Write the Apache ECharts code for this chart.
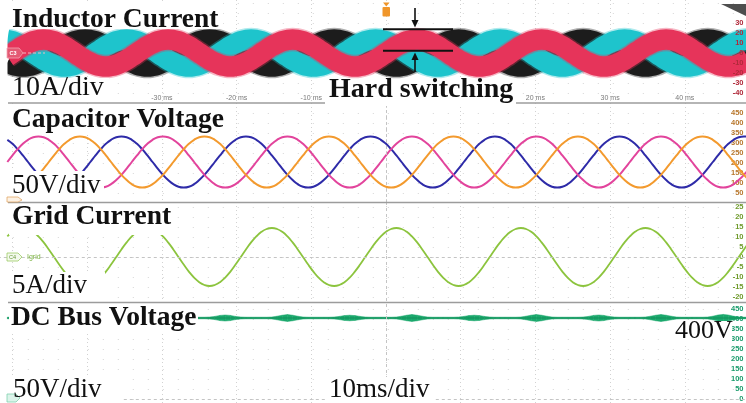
<!DOCTYPE html>
<html><head><meta charset="utf-8">
<script src="https://cdn.jsdelivr.net/npm/echarts@6/dist/echarts.min.js"></script>
<style>html,body{margin:0;padding:0;background:#fff}#c{width:746px;height:403px}</style>
</head><body><div id="c"></div>
<script>
// ---- time base (ms), one sample every 1/24 of a 60 Hz period ----
const timeMs = [
-50.69,-50,-49.31,-48.61,-47.92,-47.22,-46.53,-45.83,-45.14,-44.44,-43.75,-43.06,-42.36,-41.67,-40.97,-40.28,-39.58,-38.89,-38.19,-37.5,-36.81,-36.11,-35.42,-34.72,
-34.03,-33.33,-32.64,-31.94,-31.25,-30.56,-29.86,-29.17,-28.47,-27.78,-27.08,-26.39,-25.69,-25,-24.31,-23.61,-22.92,-22.22,-21.53,-20.83,-20.14,-19.44,-18.75,-18.06,
-17.36,-16.67,-15.97,-15.28,-14.58,-13.89,-13.19,-12.5,-11.81,-11.11,-10.42,-9.72,-9.03,-8.33,-7.64,-6.94,-6.25,-5.56,-4.86,-4.17,-3.47,-2.78,-2.08,-1.39,
-0.69,0,0.69,1.39,2.08,2.78,3.47,4.17,4.86,5.56,6.25,6.94,7.64,8.33,9.03,9.72,10.42,11.11,11.81,12.5,13.19,13.89,14.58,15.28,
15.97,16.67,17.36,18.06,18.75,19.44,20.14,20.83,21.53,22.22,22.92,23.61,24.31,25,25.69,26.39,27.08,27.78,28.47,29.17,29.86,30.56,31.25,31.94,
32.64,33.33,34.03,34.72,35.42,36.11,36.81,37.5,38.19,38.89,39.58,40.28,40.97,41.67,42.36,43.06,43.75,44.44,45.14,45.83,46.53,47.22,47.92,48.61
];

// ---- Inductor currents (A), band centre ----
const iRed = [
-3.5,0,3.5,6.8,9.5,11.7,13,13.5,13,11.7,9.5,6.8,3.5,0,-3.5,-6.8,-9.5,-11.7,-13,-13.5,-13,-11.7,-9.5,-6.8,
-3.5,0,3.5,6.8,9.5,11.7,13,13.5,13,11.7,9.5,6.8,3.5,0,-3.5,-6.8,-9.5,-11.7,-13,-13.5,-13,-11.7,-9.5,-6.8,
-3.5,0,3.5,6.8,9.5,11.7,13,13.5,13,11.7,9.5,6.8,3.5,0,-3.5,-6.8,-9.5,-11.7,-13,-13.5,-13,-11.7,-9.5,-6.8,
-3.5,0,3.5,6.8,9.5,11.7,13,13.5,13,11.7,9.5,6.8,3.5,0,-3.5,-6.8,-9.5,-11.7,-13,-13.5,-13,-11.7,-9.5,-6.8,
-3.5,0,3.5,6.8,9.5,11.7,13,13.5,13,11.7,9.5,6.8,3.5,0,-3.5,-6.8,-9.5,-11.7,-13,-13.5,-13,-11.7,-9.5,-6.8,
-3.5,0,3.5,6.8,9.5,11.7,13,13.5,13,11.7,9.5,6.8,3.5,0,-3.5,-6.8,-9.5,-11.7,-13,-13.5,-13,-11.7,-9.5,-6.8
];
const iBlack = [
-9.5,-11.7,-13,-13.5,-13,-11.7,-9.5,-6.8,-3.5,0,3.5,6.8,9.5,11.7,13,13.5,13,11.7,9.5,6.8,3.5,0,-3.5,-6.8,
-9.5,-11.7,-13,-13.5,-13,-11.7,-9.5,-6.8,-3.5,0,3.5,6.8,9.5,11.7,13,13.5,13,11.7,9.5,6.8,3.5,0,-3.5,-6.8,
-9.5,-11.7,-13,-13.5,-13,-11.7,-9.5,-6.8,-3.5,0,3.5,6.8,9.5,11.7,13,13.5,13,11.7,9.5,6.8,3.5,0,-3.5,-6.8,
-9.5,-11.7,-13,-13.5,-13,-11.7,-9.5,-6.8,-3.5,0,3.5,6.8,9.5,11.7,13,13.5,13,11.7,9.5,6.8,3.5,0,-3.5,-6.8,
-9.5,-11.7,-13,-13.5,-13,-11.7,-9.5,-6.8,-3.5,0,3.5,6.8,9.5,11.7,13,13.5,13,11.7,9.5,6.8,3.5,0,-3.5,-6.8,
-9.5,-11.7,-13,-13.5,-13,-11.7,-9.5,-6.8,-3.5,0,3.5,6.8,9.5,11.7,13,13.5,13,11.7,9.5,6.8,3.5,0,-3.5,-6.8
];
const iCyan = [
13,11.7,9.5,6.8,3.5,0,-3.5,-6.8,-9.5,-11.7,-13,-13.5,-13,-11.7,-9.5,-6.8,-3.5,0,3.5,6.8,9.5,11.7,13,13.5,
13,11.7,9.5,6.8,3.5,0,-3.5,-6.8,-9.5,-11.7,-13,-13.5,-13,-11.7,-9.5,-6.8,-3.5,0,3.5,6.8,9.5,11.7,13,13.5,
13,11.7,9.5,6.8,3.5,0,-3.5,-6.8,-9.5,-11.7,-13,-13.5,-13,-11.7,-9.5,-6.8,-3.5,0,3.5,6.8,9.5,11.7,13,13.5,
13,11.7,9.5,6.8,3.5,0,-3.5,-6.8,-9.5,-11.7,-13,-13.5,-13,-11.7,-9.5,-6.8,-3.5,0,3.5,6.8,9.5,11.7,13,13.5,
13,11.7,9.5,6.8,3.5,0,-3.5,-6.8,-9.5,-11.7,-13,-13.5,-13,-11.7,-9.5,-6.8,-3.5,0,3.5,6.8,9.5,11.7,13,13.5,
13,11.7,9.5,6.8,3.5,0,-3.5,-6.8,-9.5,-11.7,-13,-13.5,-13,-11.7,-9.5,-6.8,-3.5,0,3.5,6.8,9.5,11.7,13,13.5
];

// ---- Capacitor voltages (V) ----
const vBlue = [
316,296,269,238,205,172,141,115,94,81,77,81,94,115,141,172,205,238,269,296,316,329,333,329,
316,296,269,238,205,172,141,115,94,81,77,81,94,115,141,172,205,238,269,296,316,329,333,329,
316,296,269,238,205,172,141,115,94,81,77,81,94,115,141,172,205,238,269,296,316,329,333,329,
316,296,269,238,205,172,141,115,94,81,77,81,94,115,141,172,205,238,269,296,316,329,333,329,
316,296,269,238,205,172,141,115,94,81,77,81,94,115,141,172,205,238,269,296,316,329,333,329,
316,296,269,238,205,172,141,115,94,81,77,81,94,115,141,172,205,238,269,296,316,329,333,329
];
const vMagenta = [
205,238,269,296,316,329,333,329,316,296,269,238,205,172,141,115,94,81,77,81,94,115,141,172,
205,238,269,296,316,329,333,329,316,296,269,238,205,172,141,115,94,81,77,81,94,115,141,172,
205,238,269,296,316,329,333,329,316,296,269,238,205,172,141,115,94,81,77,81,94,115,141,172,
205,238,269,296,316,329,333,329,316,296,269,238,205,172,141,115,94,81,77,81,94,115,141,172,
205,238,269,296,316,329,333,329,316,296,269,238,205,172,141,115,94,81,77,81,94,115,141,172,
205,238,269,296,316,329,333,329,316,296,269,238,205,172,141,115,94,81,77,81,94,115,141,172
];
const vOrange = [
94,81,77,81,94,115,141,172,205,238,269,296,316,329,333,329,316,296,269,238,205,172,141,115,
94,81,77,81,94,115,141,172,205,238,269,296,316,329,333,329,316,296,269,238,205,172,141,115,
94,81,77,81,94,115,141,172,205,238,269,296,316,329,333,329,316,296,269,238,205,172,141,115,
94,81,77,81,94,115,141,172,205,238,269,296,316,329,333,329,316,296,269,238,205,172,141,115,
94,81,77,81,94,115,141,172,205,238,269,296,316,329,333,329,316,296,269,238,205,172,141,115,
94,81,77,81,94,115,141,172,205,238,269,296,316,329,333,329,316,296,269,238,205,172,141,115
];

// ---- Grid current (A) ----
const iGrid = [
10.3,12.6,14,14.5,14,12.6,10.3,7.3,3.8,0,-3.8,-7.3,-10.3,-12.6,-14,-14.5,-14,-12.6,-10.3,-7.3,-3.8,0,3.8,7.3,
10.3,12.6,14,14.5,14,12.6,10.3,7.3,3.8,0,-3.8,-7.3,-10.3,-12.6,-14,-14.5,-14,-12.6,-10.3,-7.3,-3.8,0,3.8,7.3,
10.3,12.6,14,14.5,14,12.6,10.3,7.3,3.8,0,-3.8,-7.3,-10.3,-12.6,-14,-14.5,-14,-12.6,-10.3,-7.3,-3.8,0,3.8,7.3,
10.3,12.6,14,14.5,14,12.6,10.3,7.3,3.8,0,-3.8,-7.3,-10.3,-12.6,-14,-14.5,-14,-12.6,-10.3,-7.3,-3.8,0,3.8,7.3,
10.3,12.6,14,14.5,14,12.6,10.3,7.3,3.8,0,-3.8,-7.3,-10.3,-12.6,-14,-14.5,-14,-12.6,-10.3,-7.3,-3.8,0,3.8,7.3,
10.3,12.6,14,14.5,14,12.6,10.3,7.3,3.8,0,-3.8,-7.3,-10.3,-12.6,-14,-14.5,-14,-12.6,-10.3,-7.3,-3.8,0,3.8,7.3
];

// ---- DC bus voltage (V) and its ripple half-width (V) ----
const vDc = [
405,405,405,405,405,405,405,405,405,405,405,405, 405,405,405,405,405,405,405,405,405,405,405,405,
405,405,405,405,405,405,405,405,405,405,405,405, 405,405,405,405,405,405,405,405,405,405,405,405,
405,405,405,405,405,405,405,405,405,405,405,405, 405,405,405,405,405,405,405,405,405,405,405,405,
405,405,405,405,405,405,405,405,405,405,405,405, 405,405,405,405,405,405,405,405,405,405,405,405,
405,405,405,405,405,405,405,405,405,405,405,405, 405,405,405,405,405,405,405,405,405,405,405,405,
405,405,405,405,405,405,405,405,405,405,405,405, 405,405,405,405,405,405,405,405,405,405,405,405
];
const vDcRipple = [
4,4,4,5,9,14,17,14,9,5,4,4, 4,4,4,5,9,14,16,14,9,5,4,4,
4,4,4,5,9,14,17,14,9,5,4,4, 4,4,4,5,8,13,15,13,8,5,4,4,
4,4,4,5,9,14,17,14,9,5,4,4, 4,4,4,5,8,12,14,12,8,5,4,4,
4,4,4,5,9,14,17,14,9,5,4,4, 4,4,4,5,8,12,14,12,8,5,4,4,
4,4,4,5,9,14,17,14,9,5,4,4, 4,4,4,5,8,13,15,13,8,5,4,4,
4,4,4,5,9,14,17,14,9,5,4,4, 4,4,4,5,9,15,18,15,9,5,4,4
];

// ---- tick labels shown on the scales ----
const ticksInductor = [-40,-30,-20,-10,0,10,20,30];
const ticksCap = [50,100,150,200,250,300,350,400,450];
const ticksGrid = [-20,-15,-10,-5,0,5,10,15,20,25];
const ticksDc = [0,50,100,150,200,250,300,350,400,450];
const ticksTime = [-50,-40,-30,-20,-10,0,10,20,30,40];

// ---------------------------------------------------------------
const xy = ys => timeMs.map((t, i) => [t, ys[i]]);
const GL = -62.2, GR = -13.5;
const grids = [
  {top: 0, height: 103}, {top: 103, height: 100}, {top: 202, height: 105}, {top: 302, height: 107}
].map(g => Object.assign({left: GL, right: GR, containLabel: false, outerBoundsMode: 'none'}, g));

const xAxes = grids.map((g, i) => ({
  type: 'value', gridIndex: i, min: -60, max: 50, interval: 10,
  axisLine: {show: false}, axisTick: {show: false},
  axisLabel: i === 0 ? {
    show: true, inside: true, margin: 1, interval: 0, fontSize: 7, color: '#7a7a7a',
    fontFamily: 'Liberation Sans',
    formatter: v => ticksTime.includes(v) ? v + ' ms' : ''
  } : {show: false},
  splitLine: {show: true, lineStyle: {color: '#d2d2d2', type: [1, 3], width: 1}}
}));

function yAx(i, min, max, interval, ticks, color, opts) {
  opts = opts || {};
  return {
    type: 'value', gridIndex: i, min, max, interval, position: 'right', offset: -15, z: opts.z || 0,
    axisLine: {show: false}, axisTick: {show: false},
    axisLabel: {show: opts.labels !== false, inside: true, margin: 1, fontSize: 7.5, fontWeight: 'bold',
      fontFamily: 'Liberation Sans', color,
      formatter: v => ticks.includes(v) ? String(v) : ''},
    splitLine: {show: opts.split !== false, showMinLine: false, showMaxLine: false,
      lineStyle: {color: '#d6d6d6', type: [1, 14], width: 1}}
  };
}
const yAxes = [
  yAx(0, -50, 53, 10, ticksInductor, '#b02a3a', {labels: false}),
  yAx(1, 0, 500, 50, ticksCap, '#b8782e'),
  yAx(2, -25, 27.5, 5, ticksGrid, '#6f9b2c'),
  yAx(3, -50, 485, 50, ticksDc, '#1a9c6c'),
  yAx(0, -50, 53, 10, ticksInductor, '#b02a3a', {split: false, z: 5})
];

const dashed = {color: '#c4c4c4', type: [3, 3], width: 1};
function ml(lines) {
  return {silent: true, symbol: ['none', 'none'], label: {show: false}, lineStyle: dashed,
    emphasis: {disabled: true}, animation: false, data: lines};
}
function line(idx, data, color, width, extra) {
  return Object.assign({
    type: 'line', xAxisIndex: idx, yAxisIndex: idx, data, showSymbol: false, symbol: 'none',
    smooth: true, silent: true, animation: false, z: 2,
    lineStyle: {color, width, cap: 'butt', join: 'round'}
  }, extra || {});
}
function fuzz(idx, data, color, width) {
  return line(idx, data, color, width, {lineStyle: {color, width, opacity: 0.35, cap: 'butt', join: 'round'}});
}

const DCG = '#1aa86c';
const series = [
  fuzz(0, xy(iBlack), '#1c1c1c', 23.5),
  line(0, xy(iBlack), '#1c1c1c', 20.5),
  fuzz(0, xy(iCyan), '#1ec4cc', 23.5),
  line(0, xy(iCyan), '#1ec4cc', 20.5),
  fuzz(0, xy(iRed), '#e6345a', 23.5),
  line(0, xy(iRed), '#e6345a', 20.5),
  line(1, xy(vBlue), '#2e2ba8', 2, {markLine: ml([{xAxis: 0}])}),
  line(1, xy(vMagenta), '#e2449c', 2),
  line(1, xy(vOrange), '#f39a2e', 2),
  line(2, xy(iGrid), '#8cc43e', 1.8, {markLine: ml([{xAxis: 0}, {yAxis: 0}])}),
  {
    type: 'custom', xAxisIndex: 3, yAxisIndex: 3, silent: true, animation: false, clip: true, z: 2,
    data: timeMs.map((t, i) => [t, vDc[i] - vDcRipple[i], vDc[i] + vDcRipple[i]]),
    encode: {x: 0, y: [1, 2]},
    renderItem: (params, api) => {
      const i = params.dataIndex;
      if (i >= timeMs.length - 1) return null;
      const a = api.coord([timeMs[i], vDc[i] - vDcRipple[i]]);
      const b = api.coord([timeMs[i], vDc[i] + vDcRipple[i]]);
      const c = api.coord([timeMs[i + 1], vDc[i + 1] + vDcRipple[i + 1]]);
      const d = api.coord([timeMs[i + 1], vDc[i + 1] - vDcRipple[i + 1]]);
      return {type: 'polygon', shape: {points: [a, b, c, d]},
        style: {fill: DCG, stroke: DCG, lineWidth: 0.5}};
    }
  },
  line(3, xy(vDc), '#128f5a', 1, {smooth: false, markLine: ml([{xAxis: 0}, {yAxis: 0}])})
];

// ---- annotation graphics ----
const serifB = s => 'bold ' + s + 'px "Liberation Serif", "Times New Roman", serif';
const serif = s => s + 'px "Liberation Serif", "Times New Roman", serif';
const box = (x, y, w, h, z) => ({type: 'rect', z: z || 100, silent: true, shape: {x, y, width: w, height: h}, style: {fill: '#ffffff'}});
const txt = (t, x, y, font, extra) => ({type: 'text', z: 110, silent: true,
  style: Object.assign({text: t, x, y, font, fill: '#111', textAlign: 'left', textVerticalAlign: 'middle', verticalAlign: 'middle'}, extra || {})});
const seg = (x1, y1, x2, y2, stroke, w, z, dash) => ({type: 'line', z: z || 60, silent: true,
  shape: {x1, y1, x2, y2}, style: {stroke, lineWidth: w, lineDash: dash || null}});
const poly = (pts, fill, stroke, z) => ({type: 'polygon', z: z || 90, silent: true,
  shape: {points: pts}, style: {fill, stroke: stroke || null, lineWidth: 0.8}});

const graphic = [
  // left margin strip of the inductor panel
  box(0, 0, 7.5, 102, 50),
  // panel separators
  seg(8, 103, 746, 103, '#9c9c9c', 1.5),
  seg(8, 202.5, 746, 202.5, '#9c9c9c', 1.5),
  seg(8, 302.5, 746, 302.5, '#9c9c9c', 1.5),
  // white label boxes
  box(9, 2, 214, 27), box(0, 78, 109, 23), box(325, 79, 191, 27),
  box(9, 105, 222, 29), box(0, 171, 104, 30),
  box(9, 204, 166, 31), box(0, 272, 105, 29),
  box(9, 305, 189, 27), box(0, 377, 121, 26), box(325, 377, 110, 26), box(672, 321, 60, 23),
  // labels
  txt('Inductor Current', 12, 20, serifB(27.5)),
  txt('10A/div', 12, 88, serif(28)),
  txt('Hard switching', 329, 90, serifB(28)),
  txt('Capacitor Voltage', 12, 120, serifB(27.5)),
  txt('50V/div', 12, 185.5, serif(27)),
  txt('Grid Current', 12, 217, serifB(27.5)),
  txt('5A/div', 12, 286, serif(27)),
  txt('DC Bus Voltage', 11, 318, serifB(27.5)),
  txt('50V/div', 13, 390, serif(27)),
  txt('10ms/div', 329, 390, serif(27)),
  txt('400V', 675, 331.5, serif(26)),
  // hard switching markers
  seg(383, 29.3, 453, 29.3, '#111', 2, 120),
  seg(383, 50.7, 453, 50.7, '#111', 2, 120),
  seg(415, 8, 415, 22, '#111', 1.6, 120),
  poly([[411.5, 20], [418.5, 20], [415, 27.5]], '#111', null, 120),
  seg(415, 72, 415, 58, '#111', 1.6, 120),
  poly([[411.5, 60], [418.5, 60], [415, 52.5]], '#111', null, 120),
  // trigger marker
  poly([[383, 2.5], [389.5, 2.5], [386.25, 6.5]], '#f0962a', null, 120),
  {type: 'rect', z: 120, silent: true, shape: {x: 382.5, y: 7, width: 7.5, height: 9.5, r: 1}, style: {fill: '#f0962a'}},
  txt('T', 386.25, 12, 'bold 7px "Liberation Sans"', {fill: '#222', textAlign: 'center'}),
  // scope UI bits
  poly([[721, 4], [746, 4], [746, 16]], '#4e4e4e', null, 120),
  poly([[7, 48], [19, 48], [23, 53], [19, 58], [7, 58]], '#e45a74', '#f2a3b2', 95),
  txt('C3', 13, 53, 'bold 5.5px "Liberation Sans"', {fill: '#fff', textAlign: 'center'}),
  seg(23, 53, 45, 53, '#f3b6c1', 1, 95, [3, 2]),
  poly([[7, 253], [18, 253], [22, 257], [18, 261], [7, 261]], '#f3f9ec', '#9ccc65', 95),
  txt('C4', 12.5, 257, '5.5px "Liberation Sans"', {fill: '#6a9a3a', textAlign: 'center'}),
  txt('Igrid', 27, 257, '7px "Liberation Sans"', {fill: '#7cb342'}),
  poly([[7, 197], [18, 197], [22, 200], [18, 202], [7, 202]], '#fdf2e4', '#e2a868', 105),
  poly([[7, 394], [16, 394], [20, 398], [16, 402], [7, 402]], '#dcf4ea', '#80d2b0', 105)
];

const chart = echarts.init(document.getElementById('c'), null, {renderer: 'canvas'});
chart.setOption({
  animation: false, backgroundColor: '#ffffff',
  grid: grids, xAxis: xAxes, yAxis: yAxes, series, graphic
});
</script></body></html>
